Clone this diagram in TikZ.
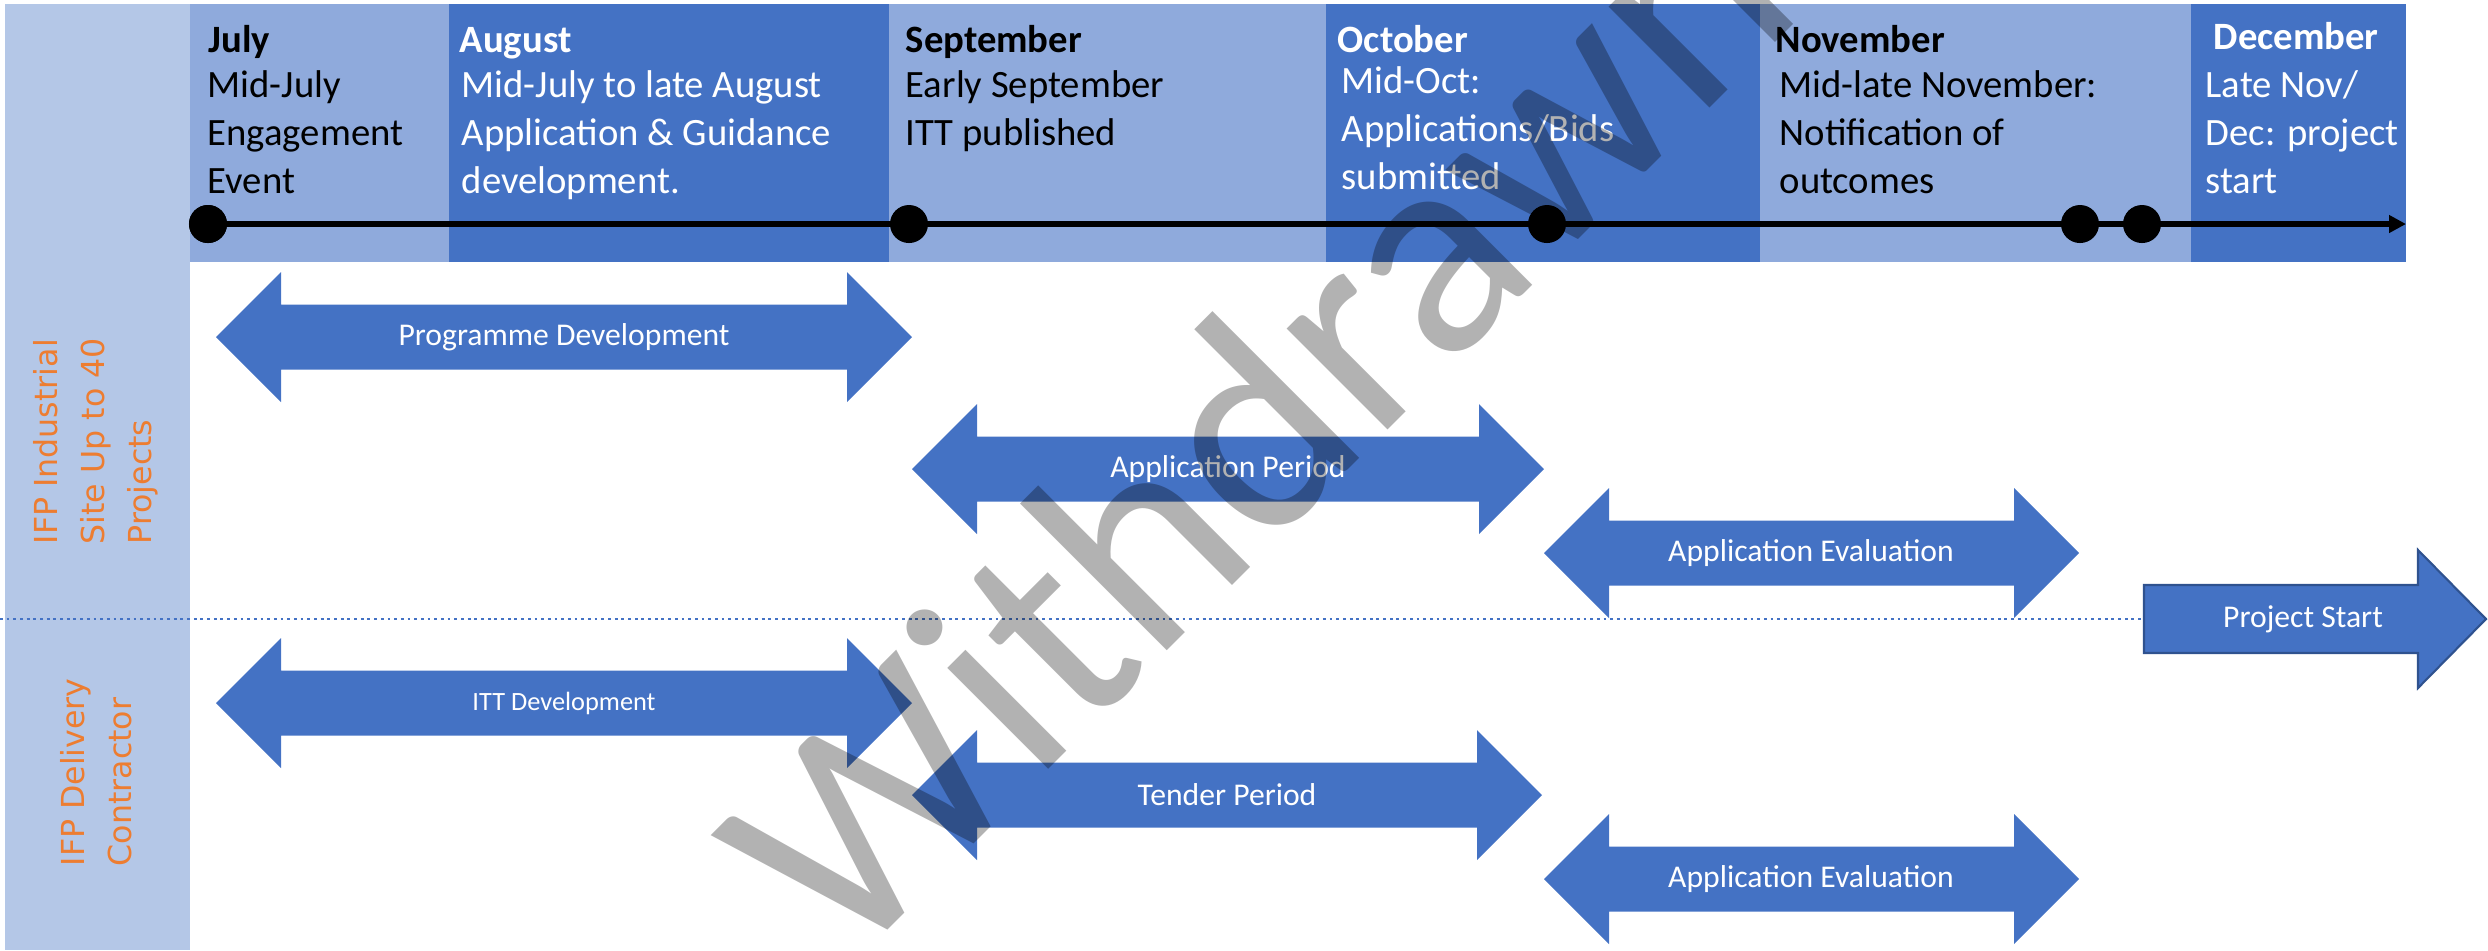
\documentclass[tikz,border=0pt]{standalone}
\usepackage{fontspec}
\setmainfont{Carlito}
\newfontfamily\sidefont{DejaVu Sans}
\usetikzlibrary{arrows.meta}
\definecolor{lt}{HTML}{8FAADC}
\definecolor{dk}{HTML}{4472C4}
\definecolor{sb}{HTML}{B4C7E7}
\definecolor{org}{HTML}{ED7D31}
\definecolor{brd}{HTML}{2F528F}
\tikzstyle{mh} = [anchor=base west, inner sep=0pt,
    font=\fontsize{11}{13.6}\selectfont\bfseries]
% multi-line text: the base is the last line
\tikzstyle{ds} = [anchor=base west, inner sep=0pt, align=left,
    font=\fontsize{11}{13.6}\selectfont]
\tikzstyle{al} = [text=white, inner sep=0pt, font=\fontsize{9}{11}\selectfont]
\tikzstyle{dt} = [circle, fill=black, inner sep=0pt, minimum size=0.38cm]
\tikzstyle{sd} = [rotate=90, anchor=west, align=left, inner sep=0pt, text=org,
    font=\sidefont\fontsize{9}{13.4}\selectfont]
\tikzstyle{wm} = [rotate=45, anchor=base west, inner sep=0pt, text=black!30,
    font=\fontsize{85}{85}\selectfont]
% double headed block arrow: left tip, right tip, middle
\newcommand{\dblarr}[3]{%
  \fill[dk] (#1,#3) -- ++(65,-65) -- ++(0,32.5) -- (#2-65,#3-32.5) -- ++(0,-32.5)
    -- (#2,#3) -- ++(-65,65) -- ++(0,-32.5) -- (#1+65,#3+32.5) -- ++(0,32.5) -- cycle;}
\begin{document}
\begin{tikzpicture}[x=0.01cm,y=-0.01cm]
  \useasboundingbox (0,0) rectangle (2488,950);

  % lanes and months
  \fill[sb] (5,4) rectangle (190,950);
  \fill[lt] (190,4) rectangle (449,262);
  \fill[dk] (449,4) rectangle (889,262);
  \fill[lt] (889,4) rectangle (1326,262);
  \fill[dk] (1326,4) rectangle (1760,262);
  \fill[lt] (1760,4) rectangle (2191,262);
  \fill[dk] (2191,4) rectangle (2406,262);

  \node[mh] (jul) at (208,52) {July};
  \node[ds] (julx) at (207,193) {Mid-July\\Engagement\\Event};
  \node[mh,text=white] (aug) at (459,52) {August};
  \node[ds,text=white] (augx) at (461,193) {Mid-July to late August\\Application \& Guidance\\development.};
  \node[mh] (sep) at (905,52) {September};
  \node[ds] (sepx) at (905,145) {Early September\\ITT published};
  \node[mh,text=white] (oct) at (1337,52) {October};
  \node[ds,text=white] (octx) at (1341,189) {Mid-Oct:\\Applications/Bids\\submitted};
  \node[mh] (nov) at (1775,52) {November};
  \node[ds] (novx) at (1779,193) {Mid-late November:\\Notification of\\outcomes};
  \node[mh,text=white] (dec) at (2213,49) {December};
  \node[ds,text=white] (decx) at (2205,193) {Late Nov/\\Dec: project\\start};

  % timeline
  \coordinate (tlend) at (2406,224);
  \node[dt] (d1) at (208,224) {};
  \draw[line width=1.7pt,-{Triangle[length=0.17cm,width=0.17cm]}] (d1.center) -- (tlend);
  \node[dt] (d1) at (208,224) {};
  \node[dt] (d2) at (909,224) {};
  \node[dt] (d3) at (1547,224) {};
  \node[dt] (d4) at (2080,224) {};
  \node[dt] (d5) at (2142,224) {};

  % lane titles
  \node[sd] (lane1) at (96,545) {IFP Industrial\\Site Up to 40\\Projects};
  \node[sd] (lane2) at (96,867) {IFP Delivery\\Contractor};

  % lane divider
  \coordinate (dl) at (0,619);
  \coordinate (psl) at (2144,619);
  \draw[dk, line width=0.8pt, dash pattern=on 0.8pt off 1.1pt] (dl) -- (psl);

  % activities
  \dblarr{216}{912}{337}
  \node[al] (pd) at (564,337) {Programme Development};
  \dblarr{912}{1544}{469}
  \node[al] (ap) at (1228,469) {Application Period};
  \dblarr{1544}{2079}{553}
  \node[al] (ae1) at (1811,553) {Application Evaluation};
  \dblarr{216}{912}{703}
  \node[al,font=\fontsize{7.5}{9}\selectfont] (itt) at (564,703) {ITT Development};
  \dblarr{912}{1542}{795}
  \node[al] (tp) at (1227,795) {Tender Period};
  \dblarr{1544}{2079}{879}
  \node[al] (ae2) at (1811,879) {Application Evaluation};
  \fill[dk, draw=brd, line width=0.6pt] (psl) -- (2144,585) -- (2418,585) -- (2418,550)
    -- (2486,619) -- (2418,688) -- (2418,653) -- (2144,653) -- cycle;
  \node[al] (ps) at (2303,619) {Project Start};

  % watermark
  \begin{scope}[blend mode=multiply]
    \node[wm] (wmk) at (845,973) {Withdrawn};
  \end{scope}
\end{tikzpicture}
\end{document}
